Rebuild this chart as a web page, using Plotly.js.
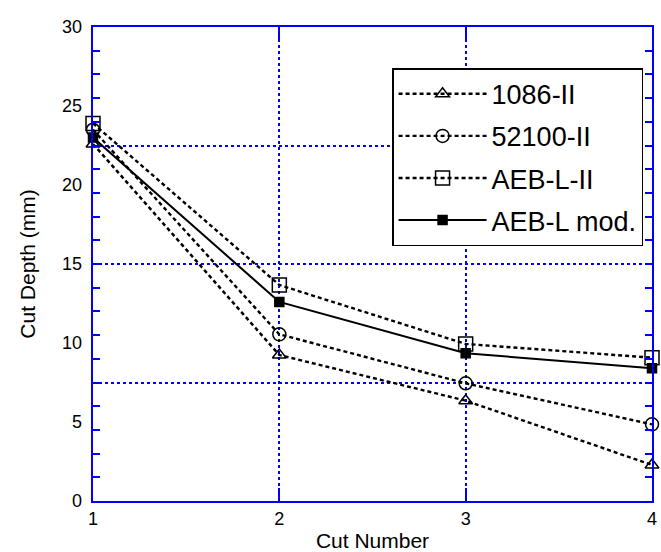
<!DOCTYPE html>
<html>
<head>
<meta charset="utf-8">
<script src="https://cdn.plot.ly/plotly-3.0.1.min.js"></script>
<style>html,body{margin:0;padding:0;background:#fff;}#chart{width:661px;height:552px;}</style>
</head>
<body>
<div id="chart"></div>
<script>
var cutNumber = [1, 2, 3, 4];
var s1086 = [22.6, 9.24, 6.35, 2.28];
var s52100 = [23.5, 10.55, 7.45, 4.85];
var sAEBLII = [23.9, 13.67, 9.94, 9.07];
var sAEBLmod = [23.0, 12.6, 9.35, 8.4];
var seriesNames = ['1086-II', '52100-II', 'AEB-L-II', 'AEB-L mod.'];
var yTickLabels = [0, 5, 10, 15, 20, 25, 30];
var xTickLabels = [1, 2, 3, 4];

var BLUE = '#0000ff';
var FONT = 'Liberation Sans, Arial, Helvetica, sans-serif';

function tr(y, name, sym, size, dash, w, grp) {
  return {
    x: cutNumber, y: y, name: name, type: 'scatter', mode: 'lines+markers',
    legendgroup: grp, cliponaxis: false,
    line: {color: '#000', width: w, dash: dash},
    marker: {symbol: sym, size: size, color: '#000', line: {color: '#000', width: 1.5}},
    xaxis: 'x', yaxis: 'y'
  };
}

var data = [
  tr(s1086, seriesNames[0], 'triangle-up-open', 12, '4px,3px', 2.4, 'g1'),
  tr(s52100, seriesNames[1], 'circle-open', 13, '4px,3px', 2.4, 'g2'),
  tr(sAEBLII, seriesNames[2], 'square-open', 14, '4px,3px', 2.4, 'g3'),
  tr(sAEBLmod, seriesNames[3], 'square', 9, 'solid', 2, 'g4'),
  {x: [cutNumber[0]], y: [null], xaxis: 'x', yaxis: 'y2', showlegend: false, hoverinfo: 'skip', mode: 'markers', type: 'scatter'}
];

var layout = {
  width: 661, height: 552,
  margin: {l: 93, r: 9, t: 27, b: 51},
  paper_bgcolor: '#fff', plot_bgcolor: '#fff',
  font: {family: FONT, color: '#000', size: 18},
  showlegend: true,
  legend: {
    x: 0.535, xanchor: 'left', y: 0.913, yanchor: 'top',
    bgcolor: '#fff', bordercolor: '#000', borderwidth: 1.5,
    font: {family: FONT, size: 27, color: '#000'},
    itemwidth: 88,
    traceorder: 'grouped', tracegroupgap: 4
  },
  xaxis: {
    range: [1, 4], tickmode: 'array', tickvals: xTickLabels, ticktext: xTickLabels.map(String),
    ticks: 'inside', ticklen: 13, tickwidth: 2, tickcolor: BLUE,
    showline: true, linecolor: BLUE, linewidth: 2, mirror: 'ticks',
    showgrid: true, gridcolor: BLUE, gridwidth: 2, griddash: 'dot',
    zeroline: false, tickfont: {size: 18, family: FONT, color: '#000'},
    title: {text: 'Cut Number', font: {size: 21, family: FONT, color: '#000'}, standoff: 8}
  },
  yaxis: {
    range: [0, 30], tickmode: 'linear', tick0: 0, dtick: 7.5,
    showticklabels: false,
    ticks: 'inside', ticklen: 7, tickwidth: 2, tickcolor: BLUE,
    minor: {tickmode: 'linear', tick0: 0, dtick: 1.5, ticks: 'inside', ticklen: 7, tickwidth: 2, tickcolor: BLUE, showgrid: false},
    showline: true, linecolor: BLUE, linewidth: 2, mirror: 'ticks',
    showgrid: true, gridcolor: BLUE, gridwidth: 2, griddash: 'dot',
    zeroline: false
  },
  yaxis2: {
    overlaying: 'y', side: 'left', anchor: 'x',
    range: [0, 30], tickmode: 'array', tickvals: yTickLabels, ticktext: yTickLabels.map(String),
    ticks: '', ticklabelstandoff: 10, showline: false, showgrid: false, zeroline: false,
    tickfont: {size: 18, family: FONT, color: '#000'},
    title: {text: 'Cut Depth (mm)', font: {size: 21, family: FONT, color: '#000'}, standoff: 20}
  }
};

Plotly.newPlot('chart', data, layout, {displayModeBar: false, staticPlot: true});
</script>
</body>
</html>
